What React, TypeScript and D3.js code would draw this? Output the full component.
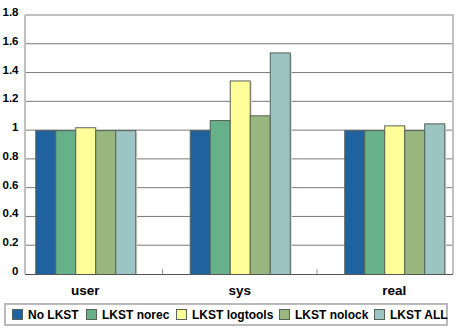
import React from "react";
import * as d3 from "d3";

const categories = ["user", "sys", "real"];
const seriesNames = ["No LKST", "LKST norec", "LKST logtools", "LKST nolock", "LKST ALL"];
const seriesColors = ["#20629f", "#66b08a", "#ffff99", "#99b67e", "#9bc4c2"];
const noLkst = [1, 1, 1];
const lkstNorec = [1, 1.07, 1];
const lkstLogtools = [1.02, 1.345, 1.033];
const lkstNolock = [1, 1.103, 1];
const lkstAll = [1, 1.54, 1.047];
const yTicks = [0, 0.2, 0.4, 0.6, 0.8, 1, 1.2, 1.4, 1.6, 1.8];

const seriesValues = [noLkst, lkstNorec, lkstLogtools, lkstNolock, lkstAll];

const W = 460, H = 330;
const plotL = 25, plotR = 453, plotT = 15, plotB = 274;

export default function App() {
  const y = d3.scaleLinear().domain([0, 1.8]).range([plotB, plotT]);
  const x = d3.scaleBand<string>().domain(categories).range([8, 471.5]).paddingInner(0).paddingOuter(0);
  const step = x.bandwidth();
  const groupW = 100;
  const xi = d3.scaleBand<string>().domain(seriesNames).range([(step - groupW) / 2, (step + groupW) / 2]).padding(0);
  const bw = xi.bandwidth();

  const legendX = [12, 86, 176, 279, 374];

  return (
    <svg width={W} height={H} style={{ position: "absolute", left: 0, top: 0, fontFamily: "Liberation Sans, Arial, sans-serif" }}>
      <rect x={0} y={0} width={W} height={H} fill="#fff" />
      {yTicks.slice(1, -1).map((t) => (
        <line key={t} x1={plotL} x2={plotR} y1={y(t)} y2={y(t)} stroke="#7a7a7a" strokeWidth={1} />
      ))}
      <line x1={plotL} x2={plotR + 1} y1={plotT} y2={plotT} stroke="#c0c0c0" strokeWidth={2} />
      <line x1={plotR} x2={plotR} y1={plotT} y2={plotB} stroke="#c0c0c0" strokeWidth={2} />
      <line x1={plotL} x2={plotL} y1={plotT} y2={plotB} stroke="#c0c0c0" strokeWidth={2} />
      {categories.map((c, ci) => (
        <g key={c} transform={`translate(${x(c)},0)`}>
          {seriesNames.map((s, si) => {
            const v = seriesValues[si][ci];
            const bx = xi(s)!;
            return (
              <rect key={s} x={bx + 2} y={y(v) + 2} width={bw} height={plotB - y(v) - 2} fill="#d8d8d8" />
            );
          })}
          {seriesNames.map((s, si) => {
            const v = seriesValues[si][ci];
            const bx = xi(s)!;
            return (
              <rect key={s} x={bx + 0.5} y={y(v) + 0.5} width={bw} height={plotB - y(v)} fill={seriesColors[si]} stroke="#56635a" strokeWidth={1} />
            );
          })}
        </g>
      ))}
      <line x1={plotL} x2={plotR} y1={plotB + 0.5} y2={plotB + 0.5} stroke="#555" strokeWidth={1} />
      {categories.slice(1).map((c) => (
        <line key={c} x1={x(c)!} x2={x(c)!} y1={plotB} y2={plotB - 5} stroke="#999" strokeWidth={1} />
      ))}
      {yTicks.map((t) => (
        <text key={t} x={18.5} y={y(t) + 1} textAnchor="end" fontSize={11.5} fontWeight="bold" fill="#000">
          {d3.format("~g")(t)}
        </text>
      ))}
      {categories.map((c) => (
        <text key={c} x={x(c)! + step / 2} y={295} textAnchor="middle" fontSize={13.5} fontWeight="bold" fill="#000">
          {c}
        </text>
      ))}
      <rect x={5} y={304} width={442} height={21} fill="#fff" stroke="#bbb" strokeWidth={2} />
      {seriesNames.map((s, i) => (
        <g key={s}>
          <rect x={legendX[i] + 0.5} y={309.5} width={10} height={10} fill={seriesColors[i]} stroke="#56635a" strokeWidth={1} />
          <text x={legendX[i] + 16} y={319} fontSize={12} fontWeight="bold" fill="#000">{s}</text>
        </g>
      ))}
    </svg>
  );
}
